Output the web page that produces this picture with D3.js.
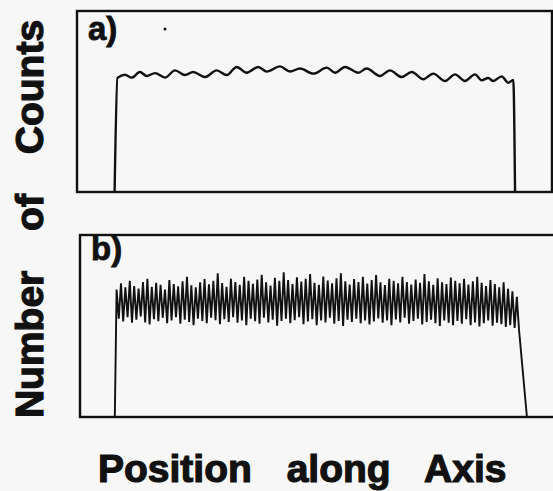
<!DOCTYPE html>
<html>
<head>
<meta charset="utf-8">
<script src="https://cdn.jsdelivr.net/npm/d3@7"></script>
<style>
  html, body { margin: 0; padding: 0; background: #f7f7f7; }
  text { font-family: "Liberation Sans", Arial, Helvetica, sans-serif; font-weight: bold; fill: #111; stroke: #111; }
</style>
</head>
<body>
<div id="chart"></div>
<script>
const width = 553
const height = 491

// panel a) : smooth spectrum, position in channels, counts
const aPos = [17.1, 18.4, 21.8, 24.9, 28.6, 31.7, 35.5, 40.0, 44.6, 49.1, 52.8, 58.2, 63.5, 68.1, 72.6,
    77.2, 82.4, 86.3, 92.3, 96.9, 101.4, 107.5, 113.6, 117.3, 121.9, 127.9, 131.7, 137.8, 142.3, 147.6,
    152.2, 157.5, 162.0, 167.4, 171.9, 176.4, 181.0, 184.0, 187.0, 189.3, 193.1, 196.1, 198.4, 199.2]
const aCounts = [0, 630, 648, 632, 663, 641, 657, 632, 672, 646, 663, 635, 672, 646, 691,
    659, 691, 665, 694, 666, 682, 654, 687, 659, 691, 659, 682, 641, 672, 635,
    663, 623, 654, 613, 650, 613, 650, 617, 630, 613, 639, 604, 619, 0]

// panel b) : odd / even channel counts (channel 18 onward)
const bStart = 17.2
const bFirst = 18
const bEnd = 204.6
const bHigh = [700, 735, 712, 748, 720, 705, 742, 760, 715, 738,
    726, 700, 752, 731, 718, 745, 770, 724, 712, 740,
    758, 729, 748, 790, 736, 715, 760, 742, 726, 770,
    748, 732, 755, 781, 740, 722, 765, 748, 795, 752,
    730, 768, 744, 760, 785, 738, 726, 772, 750, 735,
    762, 790, 746, 728, 758, 742, 770, 733, 752, 780,
    740, 725, 760, 748, 735, 770, 742, 728, 755, 738,
    786, 745, 726, 762, 740, 730, 766, 748, 735, 760,
    728, 745, 770, 738, 720, 752, 730, 712, 740, 705,
    690, 660]
const bLow = [540, 525, 548, 518, 535, 552, 520, 508, 538, 526,
    545, 515, 530, 548, 512, 535, 522, 505, 540, 528,
    515, 546, 532, 510, 538, 522, 548, 518, 530, 505,
    540, 526, 512, 545, 520, 535, 502, 528, 540, 515,
    532, 548, 510, 525, 538, 505, 530, 520, 545, 512,
    528, 500, 535, 522, 540, 515, 530, 508, 525, 542,
    518, 530, 505, 536, 520, 545, 512, 528, 540, 508,
    522, 535, 515, 500, 530, 518, 505, 528, 512, 538,
    505, 520, 498, 515, 530, 502, 518, 510, 495, 505,
    490, 480]

const panelLabels = ["a)", "b)"]
const xTitle = "Position along Axis"
const yTitle = "Number of Counts"

const svg = d3.select("div#chart").append("svg").attr("width", width).attr("height", height)
svg.append("rect").attr("width", width).attr("height", height).attr("fill", "#f7f7f7")

const x = d3.scaleLinear().domain([0, 216]).range([77, 552])
const xb = d3.scaleLinear().domain([0, 216]).range([80, 555])
const ya = d3.scaleLinear().domain([0, 1000]).range([192, 11])
const yb = d3.scaleLinear().domain([0, 1000]).range([417, 235])

// frames
svg.append("rect").attr("class", "frame")
    .attr("x", x(0)).attr("y", ya(1000))
    .attr("width", x(216) - x(0)).attr("height", ya(0) - ya(1000))
    .attr("fill", "none").attr("stroke", "#111").attr("stroke-width", 2.4)
svg.append("rect").attr("class", "frame")
    .attr("x", xb(0)).attr("y", yb(1000))
    .attr("width", xb(216) - xb(0) + 10).attr("height", yb(0) - yb(1000))
    .attr("fill", "none").attr("stroke", "#111").attr("stroke-width", 2.4)

// a) trace
const aData = aPos.map((p, i) => ({ ch: p, n: aCounts[i] }))
const lineA = d3.line().x(d => x(d.ch)).y(d => ya(d.n)).curve(d3.curveMonotoneX)
svg.append("path").datum(aData)
    .attr("d", lineA)
    .attr("fill", "none").attr("stroke", "#111").attr("stroke-width", 2.4)
    .attr("stroke-linejoin", "round")

// b) trace
const bData = [{ ch: bStart, n: 0 }]
bHigh.forEach((v, k) => {
    bData.push({ ch: bFirst + 2 * k, n: v })
    bData.push({ ch: bFirst + 2 * k + 1, n: bLow[k] })
})
bData.push({ ch: bEnd, n: 0 })
const lineB = d3.line().x(d => x(d.ch)).y(d => yb(d.n))
svg.append("path").datum(bData)
    .attr("d", lineB)
    .attr("fill", "none").attr("stroke", "#111").attr("stroke-width", 1.9)
    .attr("stroke-linejoin", "bevel")

// panel labels
svg.append("text").attr("x", 88).attr("y", 40).attr("font-size", 33).attr("stroke-width", 0.8).text(panelLabels[0])
svg.append("text").attr("x", 91).attr("y", 260).attr("font-size", 33).attr("stroke-width", 0.8).text(panelLabels[1])

// speck on the scan
svg.append("circle").attr("cx", 165).attr("cy", 29).attr("r", 1.5).attr("fill", "#111")

// axis titles
svg.append("text")
    .attr("x", 98).attr("y", 482)
    .attr("font-size", 39).attr("word-spacing", 24)
    .attr("stroke-width", 1.2)
    .text(xTitle)

svg.append("text")
    .attr("transform", "translate(43, 219) rotate(-90)")
    .attr("text-anchor", "middle")
    .attr("font-size", 39).attr("word-spacing", 29)
    .attr("stroke-width", 1.2)
    .text(yTitle)
</script>
</body>
</html>
